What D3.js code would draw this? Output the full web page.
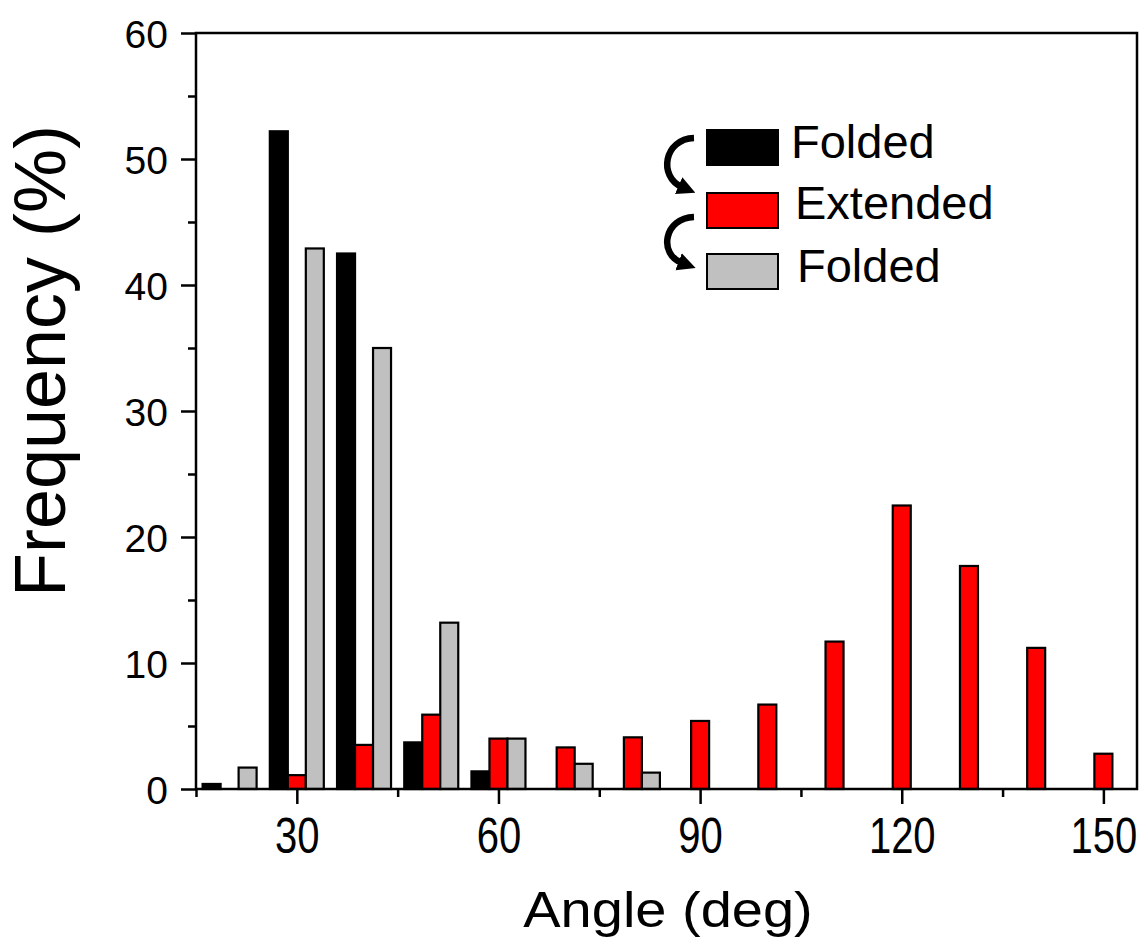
<!DOCTYPE html>
<html>
<head>
<meta charset="utf-8">
<script src="https://cdn.jsdelivr.net/npm/d3@7"></script>
<style>
    body { margin: 0; background: #fff; }
    svg { display: block; font-family: "Liberation Sans", Arial, sans-serif; }
</style>
</head>
<body>
<div id="chart"></div>
<script>
// angle bins (deg)
var angles = [20, 30, 40, 50, 60, 70, 80, 90, 100, 110, 120, 130, 140, 150];
// frequency (%) per bin
var foldedBefore = [0.4, 52.2, 42.5, 3.7, 1.4, 0, 0, 0, 0, 0, 0, 0, 0, 0];
var extended = [0, 1.1, 3.5, 5.9, 4.0, 3.3, 4.1, 5.4, 6.7, 11.7, 22.5, 17.7, 11.2, 2.8];
var foldedAfter = [1.7, 42.9, 35.0, 13.2, 4.0, 2.0, 1.3, 0, 0, 0, 0, 0, 0, 0];

var seriesNames = ["Folded", "Extended", "Folded"];
var seriesKeys = ["f1", "ext", "f2"];
var seriesColors = ["#000000", "#ff0000", "#c0c0c0"];

var xTicks = [30, 60, 90, 120, 150];
var xMinorTicks = [15, 45, 75, 105, 135];
var yTicks = [0, 10, 20, 30, 40, 50, 60];
var yMinorTicks = [5, 15, 25, 35, 45, 55];

(function () {
    var width = 1142, height = 943;
    var plot = {left: 196, right: 1137, top: 33, bottom: 789};

    var svg = d3.select("#chart").append("svg")
        .attr("width", width)
        .attr("height", height);

    var x = d3.scaleLinear().domain([15, 155]).range([plot.left, plot.right]);
    var y = d3.scaleLinear().domain([0, 60]).range([plot.bottom, plot.top]);
    // sub-position of the three bars inside one bin, in px
    var sub = d3.scaleBand().domain(seriesKeys).range([-27, 27]).padding(0);

    var columns = [foldedBefore, extended, foldedAfter];
    var bars = [];
    angles.forEach(function (a, i) {
        seriesKeys.forEach(function (k, j) {
            bars.push({angle: a, key: k, color: seriesColors[j], value: columns[j][i]});
        });
    });

    // bars
    svg.append("g")
        .selectAll("rect")
        .data(bars.filter(function (d) { return d.value > 0; }))
        .enter()
        .append("rect")
        .attr("x", function (d) { return x(d.angle) + sub(d.key); })
        .attr("width", sub.bandwidth())
        .attr("y", function (d) { return y(d.value); })
        .attr("height", function (d) { return y(0) - y(d.value); })
        .attr("fill", function (d) { return d.color; })
        .attr("stroke", "#000")
        .attr("stroke-width", 2.2);

    // frame
    svg.append("rect")
        .attr("x", plot.left)
        .attr("y", plot.top)
        .attr("width", plot.right - plot.left)
        .attr("height", plot.bottom - plot.top)
        .attr("fill", "none")
        .attr("stroke", "#000")
        .attr("stroke-width", 2.5);

    // x axis
    var xAxis = svg.append("g")
        .attr("transform", "translate(0," + plot.bottom + ")")
        .call(d3.axisBottom(x).tickValues(xTicks).tickSize(15).tickFormat(d3.format("d")));
    xAxis.select(".domain").remove();
    xAxis.selectAll(".tick line").attr("stroke-width", 2.5);
    xAxis.selectAll(".tick text")
        .attr("font-size", 40)
        .attr("fill", "#000")
        .attr("dy", null)
        .attr("y", 0)
        .attr("transform", "translate(0,64) scale(1,1.25)")
        .attr("font-family", "Liberation Sans, Arial, sans-serif");

    svg.append("g")
        .attr("transform", "translate(0," + plot.bottom + ")")
        .call(d3.axisBottom(x).tickValues(xMinorTicks).tickSize(8).tickFormat(""))
        .call(function (g) {
            g.select(".domain").remove();
            g.selectAll(".tick line").attr("stroke-width", 2.5);
        });

    // y axis
    var yAxis = svg.append("g")
        .attr("transform", "translate(" + plot.left + ",0)")
        .call(d3.axisLeft(y).tickValues(yTicks).tickSize(15).tickPadding(13));
    yAxis.select(".domain").remove();
    yAxis.selectAll(".tick line").attr("stroke-width", 2.5);
    yAxis.selectAll(".tick text")
        .attr("font-size", 39)
        .attr("fill", "#000")
        .attr("dy", "0.36em")
        .attr("font-family", "Liberation Sans, Arial, sans-serif");

    svg.append("g")
        .attr("transform", "translate(" + plot.left + ",0)")
        .call(d3.axisLeft(y).tickValues(yMinorTicks).tickSize(8).tickFormat(""))
        .call(function (g) {
            g.select(".domain").remove();
            g.selectAll(".tick line").attr("stroke-width", 2.5);
        });

    // axis titles
    svg.append("text")
        .attr("transform", "translate(668,927) scale(1,0.9)")
        .attr("text-anchor", "middle")
        .attr("font-size", 56)
        .text("Angle (deg)");

    svg.append("text")
        .attr("transform", "translate(65,361) rotate(-90)")
        .attr("text-anchor", "middle")
        .attr("font-size", 72)
        .text("Frequency (%)");

    // legend
    var legendItems = [
        {name: seriesNames[0], color: seriesColors[0], ry: 130, ty: 158, tx: 791},
        {name: seriesNames[1], color: seriesColors[1], ry: 193, ty: 219, tx: 795},
        {name: seriesNames[2], color: seriesColors[2], ry: 254, ty: 282, tx: 797}
    ];
    var legend = svg.append("g");
    legend.selectAll("rect")
        .data(legendItems)
        .enter()
        .append("rect")
        .attr("x", 707)
        .attr("y", function (d) { return d.ry; })
        .attr("width", 71)
        .attr("height", 35)
        .attr("fill", function (d) { return d.color; })
        .attr("stroke", "#000")
        .attr("stroke-width", 2);
    legend.selectAll("text")
        .data(legendItems)
        .enter()
        .append("text")
        .attr("x", function (d) { return d.tx; })
        .attr("y", function (d) { return d.ty; })
        .attr("font-size", 47)
        .text(function (d) { return d.name; });

    // curved arrows between legend entries
    svg.append("defs").append("marker")
        .attr("id", "head")
        .attr("viewBox", "0 0 10 10")
        .attr("refX", 2)
        .attr("refY", 5)
        .attr("markerWidth", 2.8)
        .attr("markerHeight", 3)
        .attr("orient", "auto")
        .append("path")
        .attr("d", "M0,0 L10,5 L0,10 Z")
        .attr("fill", "#000");

    var arrows = [
        {y0: 138, y1: 187},
        {y0: 217, y1: 263}
    ];
    svg.append("g")
        .selectAll("path")
        .data(arrows)
        .enter()
        .append("path")
        .attr("d", function (d) {
            var mid = (d.y0 + d.y1) / 2;
            return "M694," + d.y0 + " C664," + (d.y0 + 1) + " 658," + (mid + 14) + " 682," + d.y1;
        })
        .attr("fill", "none")
        .attr("stroke", "#000")
        .attr("stroke-width", 6.5)
        .attr("marker-end", "url(#head)");
})();
</script>
</body>
</html>
